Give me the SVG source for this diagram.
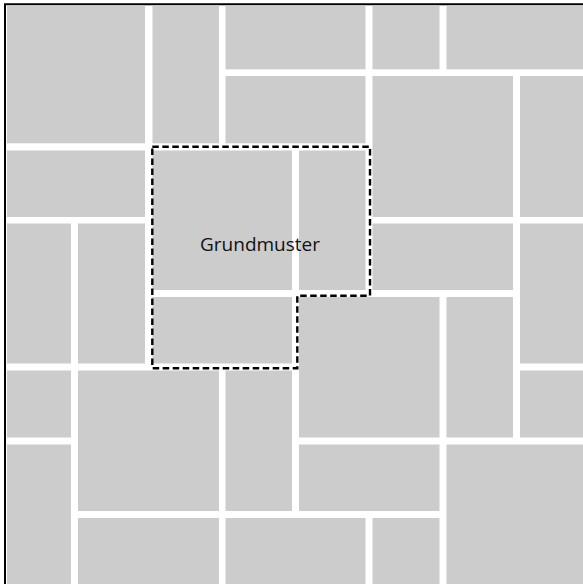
<svg xmlns="http://www.w3.org/2000/svg" width="583" height="584" viewBox="0 0 583 584">
  <style>
    .t { fill: #cccccc; }
    .frame { fill: none; stroke: #000000; stroke-width: 2; }
    .outline { fill: none; stroke: #000000; stroke-width: 2.4; stroke-dasharray: 6.5 3.5; }
    .label { font-family: "Open Sans", "Noto Sans", "Liberation Sans", sans-serif; font-size: 19px; fill: #111111; }
  </style>
  <rect x="0" y="0" width="583" height="584" fill="#ffffff"/>
  <path class="frame" d="M5,600 V4.3 H600"/>
  <g id="tiles">
    <rect class="t" x="7" y="5.5" width="138" height="137.8"/>
    <rect class="t" x="152.5" y="5.5" width="66.5" height="137.8"/>
    <rect class="t" x="225.5" y="5.5" width="140" height="63.8"/>
    <rect class="t" x="225.5" y="76" width="140" height="67.3"/>
    <rect class="t" x="372.5" y="5.5" width="67" height="63.8"/>
    <rect class="t" x="446.5" y="5.5" width="143.5" height="63.8"/>
    <rect class="t" x="372.5" y="76" width="140.5" height="141"/>
    <rect class="t" x="520" y="76" width="70" height="141"/>
    <rect class="t" x="7" y="150.5" width="138" height="66.5"/>
    <rect class="t" x="152.5" y="150.5" width="139.5" height="139.5"/>
    <rect class="t" x="299" y="150.5" width="66.5" height="139.5"/>
    <rect class="t" x="152.5" y="297" width="139.5" height="66.5"/>
    <rect class="t" x="372.5" y="223.5" width="140.5" height="66.5"/>
    <rect class="t" x="520" y="223.5" width="70" height="140"/>
    <rect class="t" x="7" y="223.5" width="64" height="140"/>
    <rect class="t" x="78" y="223.5" width="67" height="140"/>
    <rect class="t" x="299" y="297" width="140.5" height="140.5"/>
    <rect class="t" x="446.5" y="297" width="66.5" height="140.5"/>
    <rect class="t" x="7" y="370.5" width="64" height="67"/>
    <rect class="t" x="78" y="370.5" width="141" height="140.5"/>
    <rect class="t" x="225.5" y="370.5" width="66.5" height="140.5"/>
    <rect class="t" x="520" y="370.5" width="70" height="67"/>
    <rect class="t" x="7" y="444.5" width="64" height="145.5"/>
    <rect class="t" x="299" y="444.5" width="140.5" height="66.5"/>
    <rect class="t" x="446.5" y="444.5" width="143.5" height="145.5"/>
    <rect class="t" x="78" y="518" width="141" height="72"/>
    <rect class="t" x="225.5" y="518" width="140" height="72"/>
    <rect class="t" x="372.5" y="518" width="67" height="72"/>
  </g>
  <g id="grundmuster">
    <path class="outline" d="M152.3,146.7 H370 V295.7 H297.3 V368.2 H152.3 Z"/>
    <text class="label" x="200" y="251">Grundmuster</text>
  </g>
</svg>
